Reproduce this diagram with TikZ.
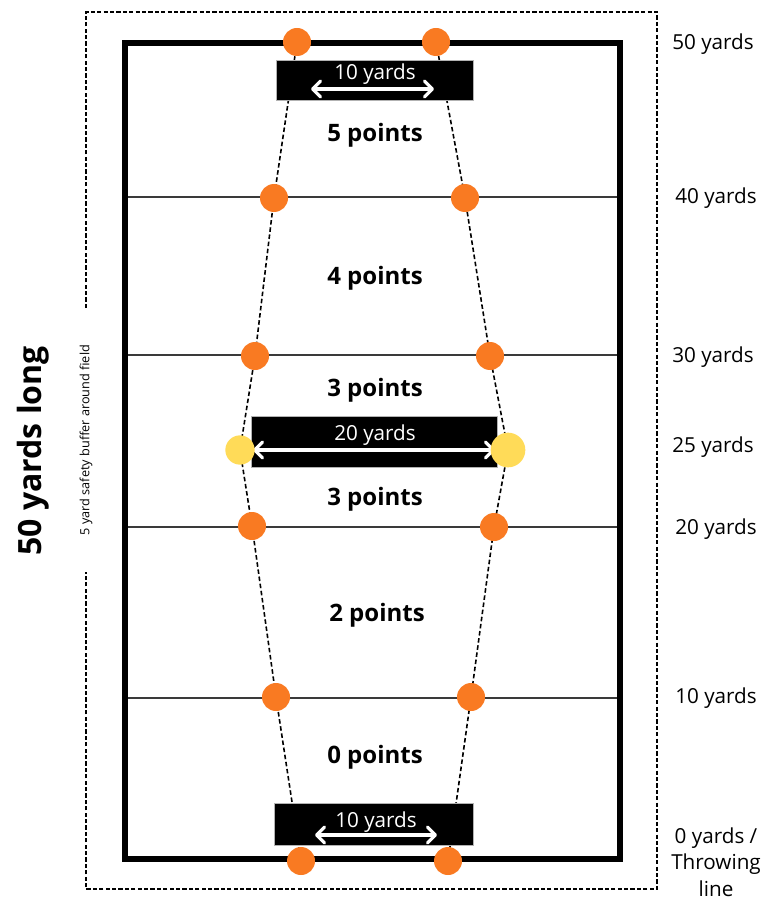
\documentclass[tikz,border=0pt]{standalone}
\usepackage{fontspec}
\setmainfont{Open Sans}
\usetikzlibrary{arrows.meta}
\definecolor{coneorange}{HTML}{F97A22}
\definecolor{coneyellow}{HTML}{FFDB58}
\definecolor{linegray}{HTML}{3A3A3A}
\tikzset{
  cone/.style={circle, fill=coneorange, inner sep=0pt, minimum size=#1},
  cone/.default=21,
  bigcone/.style={circle, fill=coneyellow, inner sep=0pt, minimum size=#1},
  yardline/.style={draw=linegray, line width=1.6pt},
  laneline/.style={draw=black, line width=1.2pt, dash pattern=on 3.4pt off 2pt},
  buffer/.style={draw=black, line width=1pt, dash pattern=on 3.2pt off 1.6pt},
  fieldedge/.style={draw=black, line width=4.6pt},
  markerbox/.style={fill=black, draw=gray!60, line width=0.4pt},
  barb/.tip={Straight Barb[length=6pt,width=12pt,line width=2.4pt,round]},
  widtharrow/.style={draw=white, line width=2.5pt, line cap=round, barb-barb},
  zonelabel/.style={font=\fontsize{18}{20}\selectfont\bfseries},
  yardlabel/.style={font=\fontsize{15.5}{20}\selectfont, align=center},
  boxlabel/.style={font=\fontsize{15.5}{18}\selectfont, text=white}
}
\begin{document}
\begin{tikzpicture}[x=0.75pt, y=-0.75pt]
\useasboundingbox (0,0) rectangle (770,902);

% safety buffer outline, open on the left around the side caption
\draw[buffer] (86,308) -- (86,12) -- (657,12) -- (657,889) -- (86,889) -- (86,572);

% yard lines across the field
\coordinate (l40a) at (125,197); \coordinate (l40b) at (620,197);
\coordinate (l30a) at (125,355); \coordinate (l30b) at (620,355);
\coordinate (l20a) at (125,527); \coordinate (l20b) at (620,527);
\coordinate (l10a) at (125,698); \coordinate (l10b) at (620,698);
\draw[yardline] (l40a) -- (l40b);
\draw[yardline] (l30a) -- (l30b);
\draw[yardline] (l20a) -- (l20b);
\draw[yardline] (l10a) -- (l10b);

% cone positions
\coordinate (L50) at (297,42);  \coordinate (R50) at (436,42);
\coordinate (L40) at (274,198); \coordinate (R40) at (465,198);
\coordinate (L30) at (255,356); \coordinate (R30) at (490,356);
\coordinate (L25) at (240,450); \coordinate (R25) at (508,450);
\coordinate (L20) at (252,526); \coordinate (R20) at (494,527);
\coordinate (L10) at (276,697); \coordinate (R10) at (471,697);
\coordinate (L0)  at (301,861); \coordinate (R0)  at (448,861);

% dashed lane boundaries through the cones
\draw[laneline] (L50) -- (L40) -- (L30) -- (L25) -- (L20) -- (L10) -- (L0);
\draw[laneline] (R50) -- (R40) -- (R30) -- (R25) -- (R20) -- (R10) -- (R0);

% field boundary
\draw[fieldedge] (125,43) rectangle (620,859);

% width markers
\node[markerbox, minimum width=197*0.75pt, minimum height=40*0.75pt] (topbox) at (375,80) {};
\node[boxlabel] (toptext) at (375,74) {10 yards};
\coordinate (ta) at (311,89); \coordinate (tb) at (434,89);
\draw[widtharrow] (ta) -- (tb);

\node[markerbox, minimum width=246*0.75pt, minimum height=51*0.75pt] (midbox) at (374,442) {};
\node[boxlabel] (midtext) at (375,435) {20 yards};
\coordinate (ma) at (253,450); \coordinate (mb) at (495,450);
\draw[widtharrow] (ma) -- (mb);

\node[markerbox, minimum width=199*0.75pt, minimum height=42*0.75pt] (botbox) at (374,824) {};
\node[boxlabel] (bottext) at (376,822) {10 yards};
\coordinate (ba) at (315,835); \coordinate (bb) at (437,835);
\draw[widtharrow] (ba) -- (bb);

% cones
\node[cone] (c50l) at (L50) {};  \node[cone] (c50r) at (R50) {};
\node[cone] (c40l) at (L40) {};  \node[cone] (c40r) at (R40) {};
\node[cone] (c30l) at (L30) {};  \node[cone] (c30r) at (R30) {};
\node[bigcone=22] (c25l) at (L25) {}; \node[bigcone=26] (c25r) at (R25) {};
\node[cone] (c20l) at (L20) {};  \node[cone] (c20r) at (R20) {};
\node[cone] (c10l) at (L10) {};  \node[cone] (c10r) at (R10) {};
\node[cone] (c0l)  at (L0) {};   \node[cone] (c0r)  at (R0) {};

% scoring zones
\node[zonelabel] (z5)  at (375,135) {5 points};
\node[zonelabel] (z4)  at (375,278) {4 points};
\node[zonelabel] (z3a) at (375,390) {3 points};
\node[zonelabel] (z3b) at (375,499) {3 points};
\node[zonelabel] (z2)  at (377,615) {2 points};
\node[zonelabel] (z0)  at (375,757) {0 points};

% distance scale
\node[yardlabel] (y50) at (713,44)  {50 yards};
\node[yardlabel] (y40) at (716,198) {40 yards};
\node[yardlabel] (y30) at (713,357) {30 yards};
\node[yardlabel] (y25) at (713,447) {25 yards};
\node[yardlabel] (y20) at (716,529) {20 yards};
\node[yardlabel] (y10) at (716,698) {10 yards};
\node[yardlabel, inner sep=0pt] (y0) at (716,862) {0 yards /\\Throwing\\line};

% side captions
\node[rotate=90, font=\fontsize{24}{26}\selectfont\bfseries] (len) at (33,451) {50 yards long};
\node[rotate=90, font=\fontsize{9.5}{11}\selectfont] (buf) at (86,440) {5 yard safety buffer around field};
\end{tikzpicture}
\end{document}
